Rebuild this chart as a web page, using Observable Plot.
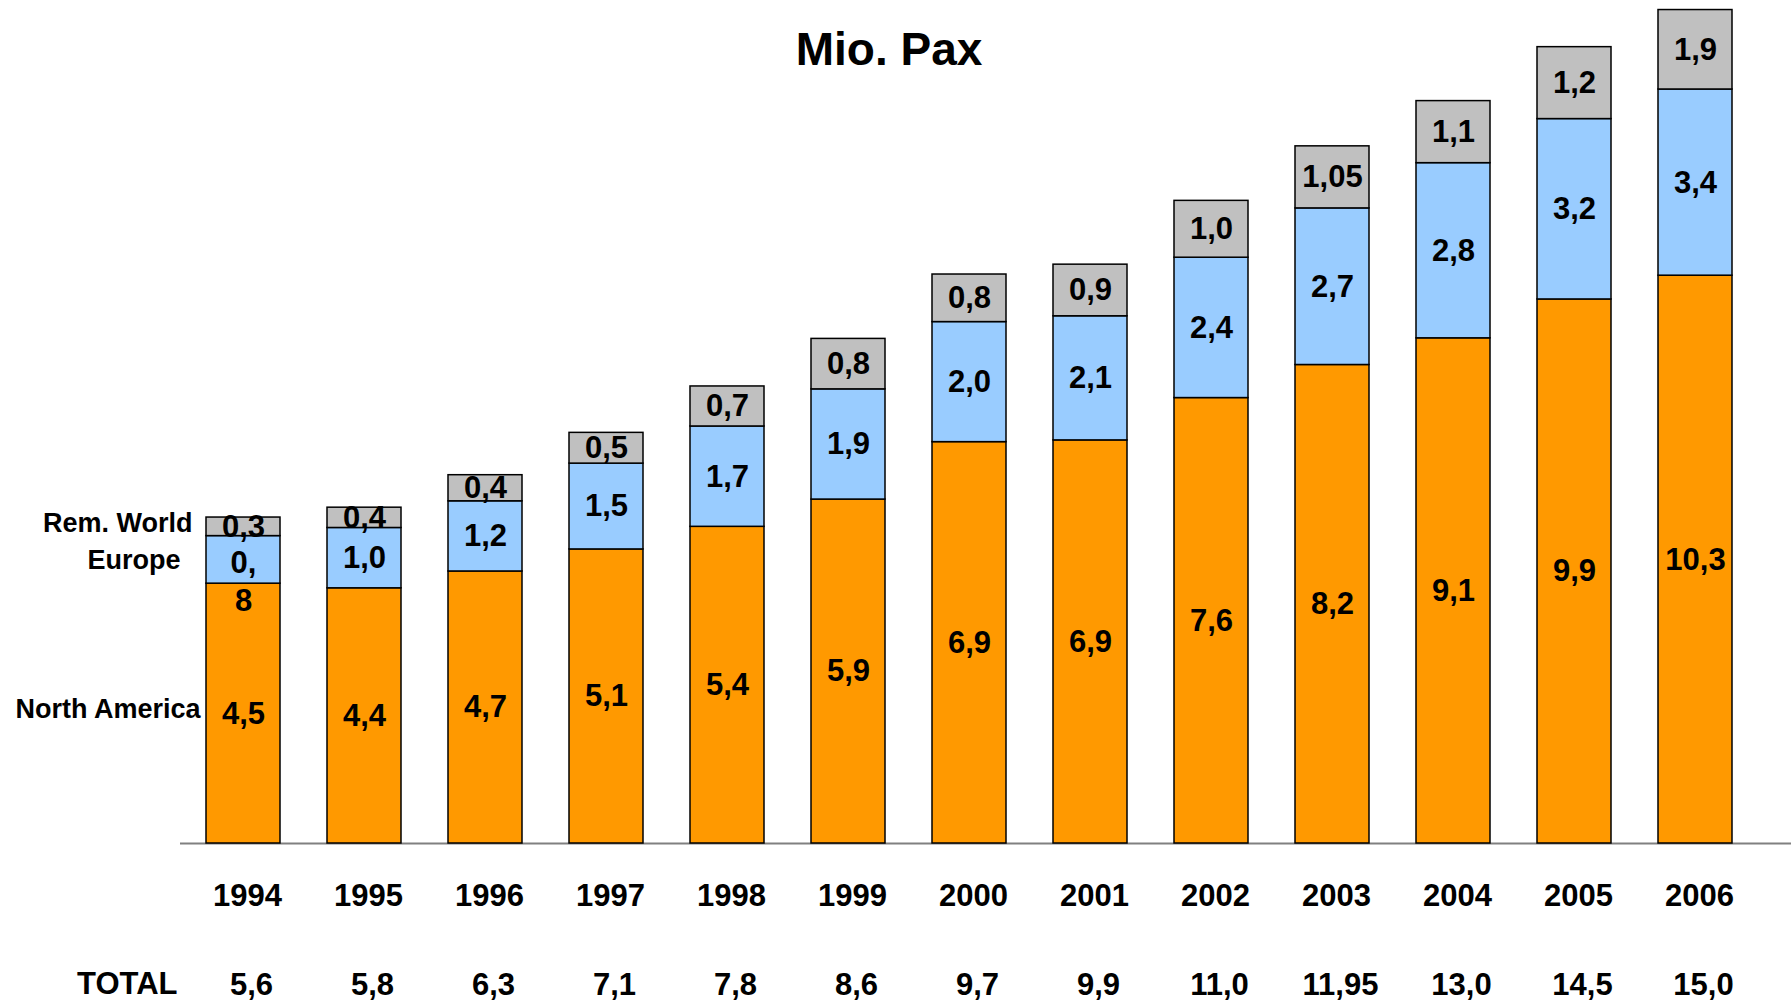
<!DOCTYPE html>
<html><head><meta charset="utf-8">
<script src="https://cdn.jsdelivr.net/npm/d3@7"></script>
<script src="https://cdn.jsdelivr.net/npm/@observablehq/plot@0.6"></script>
<style>
html,body{margin:0;padding:0;background:#fff;}
#wrap{position:relative;width:1791px;height:1002px;font-family:"Liberation Sans",Arial,sans-serif;}
#title{position:absolute;left:0;width:1778px;top:26px;text-align:center;font-size:46px;font-weight:bold;line-height:46px;color:#000;z-index:2;}
#wrap svg{position:absolute;left:0;top:0;overflow:visible;}
</style></head><body>
<div id="wrap"><div id="title">Mio. Pax</div></div>
<script>
const years = ["1994","1995","1996","1997","1998","1999","2000","2001","2002","2003","2004","2005","2006"];
const series = ["North America","Europe","Rem. World"];
const colors = ["#FF9900","#99CCFF","#C0C0C0"];
// bar heights as drawn in the picture
const northAmerica = [4.48,4.40,4.69,5.07,5.46,5.93,6.92,6.95,7.68,8.25,8.71,9.38,9.79];
const europe = [0.82,1.04,1.21,1.48,1.73,1.90,2.07,2.14,2.42,2.70,3.02,3.11,3.21];
const remWorld = [0.32,0.35,0.45,0.53,0.69,0.87,0.82,0.89,0.98,1.07,1.07,1.24,1.37];
// printed labels
const naLabels = ["4,5","4,4","4,7","5,1","5,4","5,9","6,9","6,9","7,6","8,2","9,1","9,9","10,3"];
const euLabels = ["0,\n8","1,0","1,2","1,5","1,7","1,9","2,0","2,1","2,4","2,7","2,8","3,2","3,4"];
const rwLabels = ["0,3","0,4","0,4","0,5","0,7","0,8","0,8","0,9","1,0","1,05","1,1","1,2","1,9"];
const totalLabels = ["5,6","5,8","6,3","7,1","7,8","8,6","9,7","9,9","11,0","11,95","13,0","14,5","15,0"];
const totalTitle = "TOTAL";

const valuesBySeries = [northAmerica, europe, remWorld];
const labelsBySeries = [naLabels, euLabels, rwLabels];
const rows = [];
years.forEach((year, i) => {
  let base = 0;
  series.forEach((s, j) => {
    const v = valuesBySeries[j][i];
    rows.push({year, series: s, value: v, y1: base, y2: base + v, mid: base + v / 2, label: labelsBySeries[j][i]});
    base += v;
  });
});
const totals = years.map((year, i) => ({year, label: totalLabels[i]}));
const legendRow = s => rows.filter(d => d.year === years[0] && d.series === s);
const singleLine = rows.filter(d => !d.label.includes("\n"));
const multiLine = rows.filter(d => d.label.includes("\n"));

const chart = Plot.plot({
  width: 1791, height: 1002,
  marginTop: 2, marginBottom: 159, marginLeft: 180, marginRight: 0,
  style: {fontFamily: "Liberation Sans, Arial, sans-serif", fontWeight: "bold", fontSize: "30px", color: "#000", background: "transparent"},
  x: {type: "band", domain: years, paddingInner: 0.385, paddingOuter: 0.295, align: 0.3125},
  y: {domain: [0, 14.5], axis: null},
  color: {domain: series, range: colors},
  marks: [
    Plot.ruleY([0], {stroke: "#808080", strokeWidth: 2}),
    Plot.barY(rows, {x: "year", y1: "y1", y2: "y2", fill: "series", stroke: "#000", strokeWidth: 1.5}),
    Plot.text(singleLine, {x: "year", y: "mid", text: "label", fontSize: 31, fill: "#000"}),
    Plot.text(multiLine, {x: "year", y: "mid", text: "label", fontSize: 31, fill: "#000", lineHeight: 1.22, dy: 20}),
    Plot.text(legendRow("Rem. World"), {x: "year", y: "mid", text: "series", textAnchor: "end", dx: -51, dy: -3, fontSize: 27}),
    Plot.text(legendRow("Europe"), {x: "year", y: "mid", text: "series", textAnchor: "end", dx: -63, fontSize: 27}),
    Plot.text(legendRow("North America"), {x: "year", y: "mid", text: "series", textAnchor: "end", dx: -43, dy: -4, fontSize: 27}),
    Plot.axisX({tickSize: 0, tickPadding: 40, fontSize: 31, dx: 4, fill: "#000", label: null}),
    Plot.text(totals, {x: "year", frameAnchor: "bottom", text: "label", dy: 151, dx: 8, fontSize: 31}),
    Plot.text([totalTitle], {frameAnchor: "bottom-left", text: d => d, textAnchor: "end", dx: -3, dy: 150, fontSize: 31})
  ]
});
document.getElementById("wrap").appendChild(chart);
</script>
</body></html>
